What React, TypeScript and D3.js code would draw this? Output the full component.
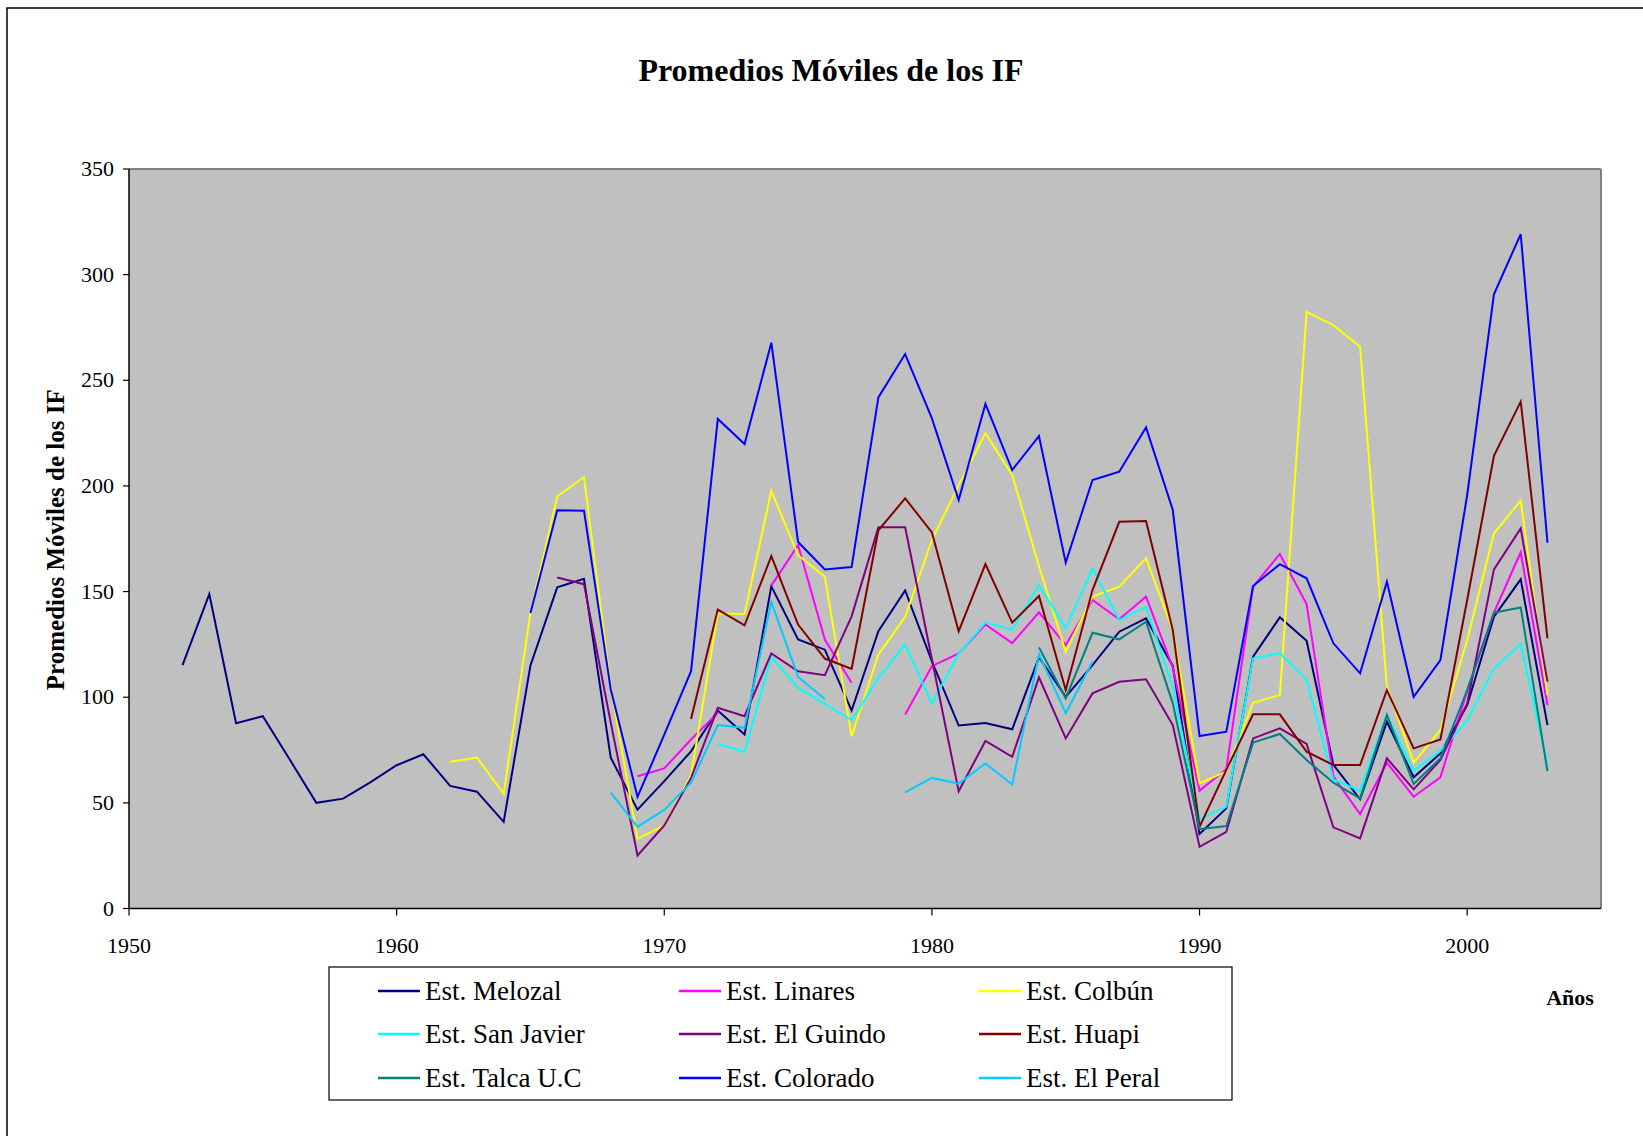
import React from 'react';
import * as d3 from 'd3';

// ---- Data ----
const xTicks = [1950, 1960, 1970, 1980, 1990, 2000];
const yTicks = [0, 50, 100, 150, 200, 250, 300, 350];

const melozalStart = 1952;
const melozal = [115.2, 148.8, 87.7, 91, 70.6, 50, 52, 59.6, 67.8, 73, 58, 55.3, 41, 115, 152, 156, 71.4, 46.8, 60.3, 74.4,
  93.7, 82.3, 152.5, 127.3, 122.5, 93.7, 131.2, 150.5, 117, 86.6, 87.8, 84.8, 118.9, 100.2, 115.2, 131, 137.3, 114.8, 35.3, 47.4,
  119.2, 137.8, 126.7, 68, 51.7, 88.4, 62.1, 73.4, 96.3, 138.1, 155.8, 86.8];

const linaresStart = 1969;
const linares = [62.6, 66.3, 80, 92.6, null, 152.8, 172, 127.3, 106.8, null, 91.8, 114.7, 120.7, 134.4, 125.6, 140.2, 124.7, 146,
  136.9, 147.6, 114.1, 55.8, 65.9, 152.3, 167.8, 144.1, 62.4, 44.7, 69, 52.9, 62.1, 103, 140, 168.6, 96.3];

const colbunStart = 1962;
const colbun = [69.5, 71.4, 54.3, 140, 195, 204.2, 105, 33, 39.3, 63, 139.6, 139.4, 197.7, 167.2, 157, 81.5, 120.2, 138, 174.4,
  200.4, 224.9, 205.2, 162, 121.5, 147.6, 152.3, 165.7, 131.8, 59.2, 64.8, 97.4, 101, 282.4, 276.1, 265.9, 105, 69, 84.5, 127,
  177.6, 192.9, 101];

const sanJavierStart = 1972;
const sanJavier = [78, 74.1, 119, 104.4, 96.8, 89.1, 109.1, 125, 97, 120.7, 135.3, 132.1, 153.1, 132.6, 161, 136.5, 142.8, 105,
  42.2, 48.2, 118.4, 120.8, 108.1, 61.1, 55.8, 91.6, 65.2, 74.7, 88.9, 113.7, 125.2, 68];

const elGuindoStart = 1966;
const elGuindo = [156.7, 153.5, 88, 25.1, 39.3, 61.8, 95, 91, 120.7, 112.3, 110.4, 138.3, 180.4, 180.4, 118, 55.5, 79.3, 71.8,
  109.4, 80.5, 101.8, 107.3, 108.5, 86.8, 29.2, 36.3, 80.5, 85.3, 77.9, 38.4, 33.2, 71.1, 56.4, 70.3, 97, 160.5, 179.9, 107.3];

const huapiStart = 1971;
const huapi = [89.7, 141.5, 134, 166.8, 134.4, 118.3, 113.4, 179, 194.1, 178, 131.2, 163, 135.3, 147.9, 103.4, 150.7, 183, 183.4,
  131.8, 38.7, 65.6, 91.9, 91.9, 74.2, 67.9, 67.9, 103.4, 75.8, 80, 146, 214.2, 239.9, 127.9];

const talcaStart = 1984;
const talca = [123.6, 99.5, 130.5, 127.4, 135.7, 97.1, 37.5, 39, 78.5, 82.6, 70.3, 59.5, 52.1, 91.6, 58.9, 71.1, 103.4, 140,
  142.5, 65];

const coloradoStart = 1965;
const colorado = [139.8, 188.5, 188.3, 103.8, 52.8, 82.3, 112.3, 231.7, 219.8, 267.8, 173.5, 160.5, 161.6, 241.9, 262.4, 232,
  193.3, 238.8, 207.5, 223.6, 163.7, 202.8, 206.7, 227.7, 188.6, 81.6, 83.7, 152.6, 163, 156.3, 125.5, 111.3, 154.7, 100.2, 117.6,
  195.7, 290.7, 319.2, 173.1];

const elPeralStart = 1968;
const elPeral = [54.8, 38.6, 46.7, 59.5, 86.8, 85.5, 145, 109.6, 99.2, null, null, 55, 61.8, 59.1, 68.6, 58.7, 120.4, 92.4, 116.8];

const seriesNames = ['Est. Melozal', 'Est. Linares', 'Est. Colbún', 'Est. San Javier', 'Est. El Guindo', 'Est. Huapi',
  'Est. Talca U.C', 'Est. Colorado', 'Est. El Peral'];
const seriesStarts = [melozalStart, linaresStart, colbunStart, sanJavierStart, elGuindoStart, huapiStart, talcaStart,
  coloradoStart, elPeralStart];
const seriesValues = [melozal, linares, colbun, sanJavier, elGuindo, huapi, talca, colorado, elPeral];
const seriesColors = ['#000080', '#FF00FF', '#FFFF00', '#00FFFF', '#800080', '#800000', '#008080', '#0000FF', '#00CCFF'];

// ---- Layout ----
const W = 1643;
const H = 1136;
const plot = { left: 129, right: 1601, top: 169, bottom: 908.5 };
const FONT = '"Liberation Serif", "Times New Roman", serif';

export default function App() {
  const x = d3.scaleLinear().domain([1950, 2005]).range([plot.left, plot.right]);
  const y = d3.scaleLinear().domain([0, 350]).range([plot.bottom, plot.top]);

  const line = d3
    .line<{ year: number; v: number | null }>()
    .defined((d) => d.v !== null)
    .x((d) => x(d.year))
    .y((d) => y(d.v as number));

  const series = seriesNames.map((name, i) => ({
    name,
    color: seriesColors[i],
    points: seriesValues[i].map((v, j) => ({ year: seriesStarts[i] + j, v })),
  }));

  const legendCols = [378, 679, 979];
  const legendRows = [991, 1034, 1078];

  return (
    <svg
      width={W}
      height={H}
      style={{ position: 'absolute', left: 0, top: 0, background: '#fff' }}
      fontFamily={FONT}
    >
      {/* outer chart border */}
      <rect x={7} y={8} width={W + 20} height={H + 20} fill="#fff" stroke="#000" strokeWidth={1.5} />

      {/* title */}
      <text x={831} y={81} textAnchor="middle" fontSize={32} fontWeight="bold" fill="#000">
        Promedios Móviles de los IF
      </text>

      {/* plot area */}
      <rect x={plot.left} y={plot.top} width={plot.right - plot.left} height={plot.bottom - plot.top} fill="#C0C0C0" />
      <line x1={plot.left} x2={plot.right} y1={plot.top} y2={plot.top} stroke="#808080" strokeWidth={2} />
      <line x1={plot.right} x2={plot.right} y1={plot.top} y2={plot.bottom} stroke="#808080" strokeWidth={2} />

      {/* series */}
      <g clipPath="url(#clip)">
        {series.map((s) => (
          <path key={s.name} d={line(s.points) || ''} fill="none" stroke={s.color} strokeWidth={2} strokeLinejoin="miter" />
        ))}
      </g>
      <defs>
        <clipPath id="clip">
          <rect x={plot.left} y={plot.top - 2} width={plot.right - plot.left} height={plot.bottom - plot.top + 2} />
        </clipPath>
      </defs>

      {/* axes */}
      <line x1={plot.left} x2={plot.left} y1={plot.top} y2={plot.bottom} stroke="#000" strokeWidth={1.5} />
      <line x1={plot.left} x2={plot.right} y1={plot.bottom} y2={plot.bottom} stroke="#000" strokeWidth={1.5} />

      {yTicks.map((t) => (
        <g key={'y' + t}>
          <line x1={plot.left - 6} x2={plot.left} y1={y(t)} y2={y(t)} stroke="#000" strokeWidth={1.2} />
          <text x={114} y={y(t) + 7} textAnchor="end" fontSize={22} fill="#000">
            {t}
          </text>
        </g>
      ))}
      {xTicks.map((t) => (
        <g key={'x' + t}>
          <line x1={x(t)} x2={x(t)} y1={plot.bottom} y2={plot.bottom + 7} stroke="#000" strokeWidth={1.2} />
          <text x={x(t)} y={953} textAnchor="middle" fontSize={22} fill="#000">
            {t}
          </text>
        </g>
      ))}

      {/* axis titles */}
      <text
        transform={`translate(64, ${(plot.top + plot.bottom) / 2 + 1}) rotate(-90)`}
        textAnchor="middle"
        fontSize={25}
        fontWeight="bold"
        fill="#000"
      >
        Promedios Móviles de los IF
      </text>
      <text x={1570} y={1005} textAnchor="middle" fontSize={22} fontWeight="bold" fill="#000">
        Años
      </text>

      {/* legend */}
      <rect x={329} y={967} width={903} height={133} fill="#fff" stroke="#000" strokeWidth={1.2} />
      {series.map((s, i) => {
        const cx = legendCols[i % 3];
        const cy = legendRows[Math.floor(i / 3)];
        return (
          <g key={'lg' + s.name}>
            <line x1={cx} x2={cx + 42} y1={cy} y2={cy} stroke={s.color} strokeWidth={2.5} />
            <text x={cx + 47} y={cy + 9} fontSize={27} fill="#000">
              {s.name}
            </text>
          </g>
        );
      })}
    </svg>
  );
}
